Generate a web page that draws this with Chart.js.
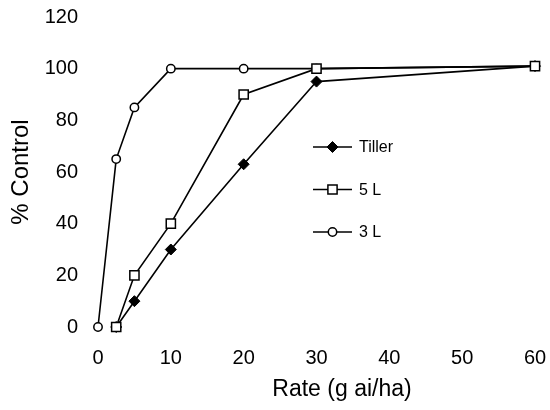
<!DOCTYPE html>
<html><head><meta charset="utf-8">
<script src="https://cdn.jsdelivr.net/npm/chart.js@4/dist/chart.umd.min.js"></script>
<style>html,body{margin:0;padding:0;background:#fff;} #wrap{width:550px;height:410px;position:relative;}</style>
</head><body><div id="wrap"><canvas id="c" width="550" height="410" style="width:550px;height:410px"></canvas></div>
<script>
const seriesNames = ['Tiller', '5 L', '3 L'];
const tillerRate = [2.5, 5, 10, 20, 30, 60];
const tillerControl = [0, 10, 30, 63, 95, 101];
const fiveLRate = [2.5, 5, 10, 20, 30, 60];
const fiveLControl = [0, 20, 40, 90, 100, 101];
const threeLRate = [0, 2.5, 5, 10, 20, 30, 60];
const threeLControl = [0, 65, 85, 100, 100, 100, 101];
const xTicks = [0, 10, 20, 30, 40, 50, 60];
const yTicks = [0, 20, 40, 60, 80, 100, 120];
const xTitle = 'Rate (g ai/ha)';
const yTitle = '% Control';

const FONT = "'Liberation Sans', Arial, sans-serif";
const pts = (xs, ys) => xs.map((x, i) => ({x: x, y: ys[i]}));

const legendInside = {
  id: 'legendInside',
  afterDraw(chart) {
    const ctx = chart.ctx;
    const x0 = 313, x1 = 352, tx = 359, y0 = 147, dy = 42.5;
    ctx.save();
    chart.data.datasets.forEach((ds, i) => {
      const y = y0 + i * dy;
      ctx.strokeStyle = '#000';
      ctx.lineWidth = ds.borderWidth;
      ctx.beginPath(); ctx.moveTo(x0, y); ctx.lineTo(x1, y); ctx.stroke();
      ctx.fillStyle = ds.pointBackgroundColor;
      ctx.strokeStyle = ds.pointBorderColor;
      ctx.lineWidth = ds.pointBorderWidth;
      Chart.helpers.drawPoint(ctx, {pointStyle: ds.pointStyle, radius: ds.pointRadius, rotation: 0, borderWidth: ds.pointBorderWidth}, (x0 + x1) / 2, y);
      ctx.fillStyle = '#000';
      ctx.font = '16px ' + FONT;
      ctx.textBaseline = 'middle';
      ctx.textAlign = 'left';
      ctx.fillText(ds.label, tx, y + 1);
    });
    // x-axis title, centred slightly right of the axis middle as in the original
    const xs = chart.scales.x;
    ctx.fillStyle = '#000';
    ctx.font = '23px ' + FONT;
    ctx.textAlign = 'center';
    ctx.textBaseline = 'middle';
    ctx.fillText(xTitle, xs.getPixelForValue(33.5), 390);
    ctx.restore();
  }
};

new Chart(document.getElementById('c'), {
  type: 'line',
  data: {
    datasets: [
      {label: seriesNames[0], data: pts(tillerRate, tillerControl), borderColor: '#000', borderWidth: 1.6,
       pointStyle: 'rectRot', pointRadius: 5.5, pointBackgroundColor: '#000', pointBorderColor: '#000', pointBorderWidth: 1, order: 2, clip: false},
      {label: seriesNames[1], data: pts(fiveLRate, fiveLControl), borderColor: '#000', borderWidth: 1.6,
       pointStyle: 'rect', pointRadius: 6.5, pointBackgroundColor: '#fff', pointBorderColor: '#000', pointBorderWidth: 1.5, order: 0, clip: false},
      {label: seriesNames[2], data: pts(threeLRate, threeLControl), borderColor: '#000', borderWidth: 1.6,
       pointStyle: 'circle', pointRadius: 4.2, pointBackgroundColor: '#fff', pointBorderColor: '#000', pointBorderWidth: 1.5, order: 1, clip: false}
    ]
  },
  options: {
    responsive: false,
    animation: false,
    devicePixelRatio: 1,
    layout: {padding: {top: 17, right: 15, left: 0, bottom: 0}},
    plugins: {legend: {display: false}, tooltip: {enabled: false}},
    elements: {line: {tension: 0}},
    scales: {
      x: {
        type: 'linear', min: 0, max: 60,
        afterBuildTicks: s => { s.ticks = xTicks.map(v => ({value: v})); },
        afterFit: s => { s.height = 83; s.paddingLeft = 0; s.paddingRight = 0; },
        grid: {display: false, drawTicks: false},
        border: {display: false},
        ticks: {color: '#000', font: {family: FONT, size: 20}, padding: 19, maxRotation: 0},
        title: {display: false, text: xTitle}
      },
      y: {
        type: 'linear', min: 0, max: 120,
        afterBuildTicks: s => { s.ticks = yTicks.map(v => ({value: v})); },
        afterFit: s => { s.width = 98; s.paddingTop = 0; s.paddingBottom = 0; },
        grid: {display: false, drawTicks: false},
        border: {display: false},
        ticks: {color: '#000', font: {family: FONT, size: 20}, padding: 20},
        title: {display: true, text: yTitle, color: '#000', font: {family: FONT, size: 24}, padding: {top: 7, bottom: 0}}
      }
    }
  },
  plugins: [legendInside]
});
</script></body></html>
